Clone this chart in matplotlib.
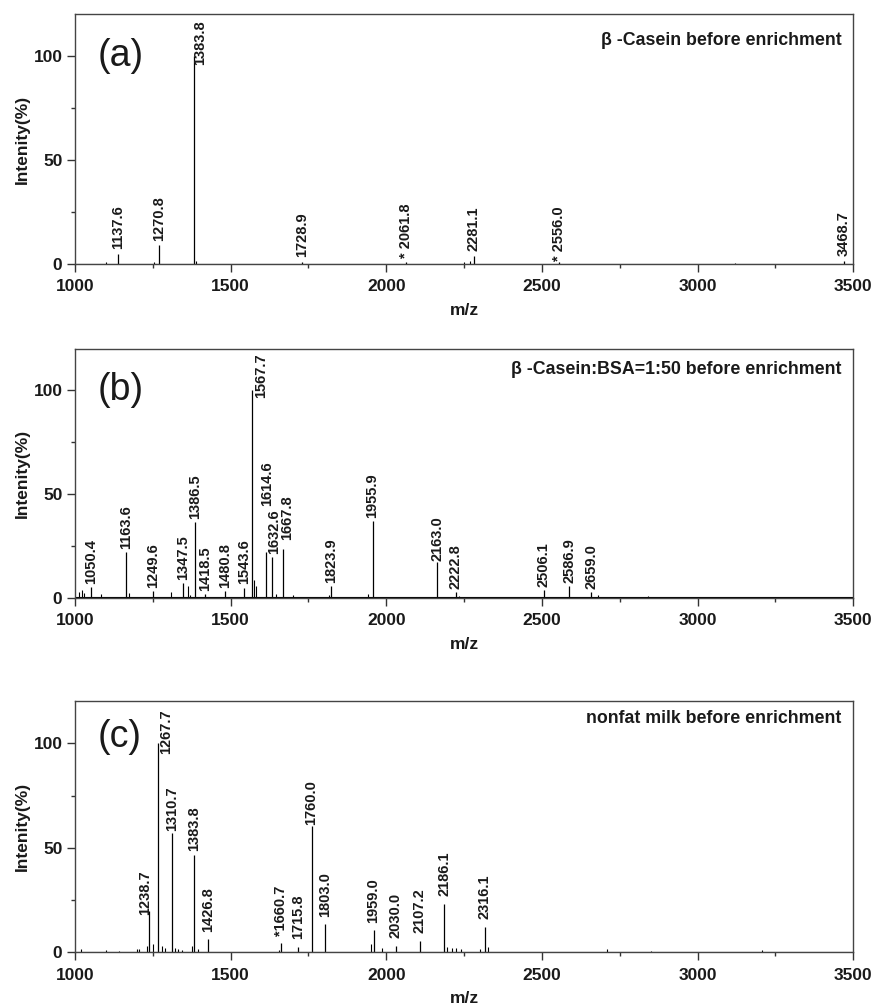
import matplotlib
matplotlib.use("Agg")
import matplotlib.pyplot as plt
from matplotlib import font_manager
from matplotlib.ticker import MultipleLocator

# ---------------------------------------------------------------
# fonts
# ---------------------------------------------------------------
def pick_font(*names):
    for name in names:
        try:
            font_manager.findfont(font_manager.FontProperties(family=name),
                                  fallback_to_default=False)
            return name
        except ValueError:
            pass
    return "DejaVu Sans"

NARROW = pick_font("Liberation Sans Narrow", "Arial Narrow", "Liberation Sans")
SANS = pick_font("Liberation Sans", "Arial", "DejaVu Sans")

# ---------------------------------------------------------------
# (a) beta-casein before enrichment
# ---------------------------------------------------------------
mz_a = [1137.6, 1270.8, 1383.8, 1728.9, 2061.8, 2281.1, 2556.0, 3468.7]
int_a = [5.0, 9.0, 100.0, 1.2, 0.8, 4.0, 1.0, 1.5]
lab_a = ["1137.6", "1270.8", "1383.8", "1728.9", "* 2061.8", "2281.1",
         "* 2556.0", "3468.7"]
minor_mz_a = [1100, 1255, 1390, 2250, 2270, 3120]
minor_int_a = [0.8, 0.8, 1.5, 1.0, 1.5, 0.6]

# ---------------------------------------------------------------
# (b) beta-casein : BSA = 1:50 before enrichment
# ---------------------------------------------------------------
mz_b = [1050.4, 1163.6, 1249.6, 1347.5, 1386.5, 1418.5, 1480.8, 1543.6,
        1567.7, 1614.6, 1632.6, 1667.8, 1823.9, 1955.9, 2163.0, 2222.8,
        2506.1, 2586.9, 2659.0]
int_b = [5.3, 22.3, 3.2, 7.0, 36.5, 2.0, 3.4, 5.0,
         100.0, 22.0, 19.8, 23.4, 5.6, 37.0, 17.4, 2.9,
         4.0, 5.6, 2.9]
lab_b = ["%.1f" % v for v in mz_b]
minor_mz_b = [1012, 1022, 1030, 1085, 1175, 1310, 1362, 1370, 1575, 1580,
              1645, 1700, 1815, 1940, 2235, 2680, 2840, 3340]
minor_int_b = [3.0, 4.0, 2.5, 2.0, 2.5, 3.0, 5.6, 1.5, 8.5, 6.0,
               2.0, 1.5, 1.5, 2.0, 1.0, 1.5, 1.0, 0.6]

# ---------------------------------------------------------------
# (c) nonfat milk before enrichment
# ---------------------------------------------------------------
mz_c = [1238.7, 1267.7, 1310.7, 1383.8, 1426.8, 1660.7, 1715.8, 1760.0,
        1803.0, 1959.0, 2030.0, 2107.2, 2186.1, 2316.1]
int_c = [19.5, 100.0, 57.0, 46.7, 6.2, 4.3, 2.7, 60.3,
         13.4, 10.7, 3.2, 5.6, 23.2, 12.3]
lab_c = ["1238.7", "1267.7", "1310.7", "1383.8", "1426.8", "*1660.7",
         "1715.8", "1760.0", "1803.0", "1959.0", "2030.0", "2107.2",
         "2186.1", "2316.1"]
minor_mz_c = [1020, 1100, 1140, 1200, 1205, 1230, 1252, 1280, 1290, 1320,
              1330, 1345, 1375, 1395, 1655, 1950, 1985, 2195, 2210, 2225,
              2240, 2300, 2325, 2710, 2850, 3208]
minor_int_c = [1.5, 1.0, 0.8, 1.5, 1.5, 3.0, 4.0, 3.0, 2.0, 2.0,
               1.5, 1.0, 3.0, 1.5, 1.0, 4.0, 2.0, 2.5, 2.0, 2.0,
               1.5, 1.5, 2.5, 1.5, 0.6, 1.0]

# label placement tweaks: m/z -> (x shift, y of label foot)
adjust_a = {1383.8: (19, 95.5), 2556.0: (0, 1.5)}
adjust_b = {1567.7: (30, 96.5), 1614.6: (2, 44.5), 1632.6: (6, 21.0),
            1667.8: (14, 27.9), 2163.0: (0, 17.8)}
adjust_c = {1238.7: (-13, 17.9), 1267.7: (24, 94.7), 1310.7: (0, 58.0),
            1383.8: (0, 48.3), 1760.0: (0, 61.0)}

panels = [
    dict(mz=mz_a, inten=int_a, labels=lab_a, mmz=minor_mz_a, mint=minor_int_a,
         adj=adjust_a, off=2.2, base=0.0, tag="(a)", tag_y=100,
         title="β -Casein before enrichment", title_y=107.5,
         rect=[0.0855, 0.7373, 0.8875, 0.2488]),
    dict(mz=mz_b, inten=int_b, labels=lab_b, mmz=minor_mz_b, mint=minor_int_b,
         adj=adjust_b, off=1.5, base=0.5, tag="(b)", tag_y=100,
         title="β -Casein:BSA=1:50 before enrichment", title_y=110,
         rect=[0.0855, 0.4050, 0.8875, 0.2478]),
    dict(mz=mz_c, inten=int_c, labels=lab_c, mmz=minor_mz_c, mint=minor_int_c,
         adj=adjust_c, off=3.5, base=0.3, tag="(c)", tag_y=103,
         title="nonfat milk before enrichment", title_y=112,
         rect=[0.0855, 0.0525, 0.8875, 0.2495]),
]

fig = plt.figure(figsize=(8.77, 10.05), dpi=100)

for p in panels:
    ax = fig.add_axes(p["rect"])

    # spectrum sticks
    ax.hlines(p["base"], 1000, 3500, color="black", lw=0.8)
    ax.vlines(p["mmz"], 0, p["mint"], color="black", lw=0.8)
    ax.vlines(p["mz"], 0, p["inten"], color="black", lw=0.9)

    # peak labels
    for x, y, s in zip(p["mz"], p["inten"], p["labels"]):
        dx, ly = p["adj"].get(x, (0, y + p["off"]))
        ax.text(x + dx, ly, s, rotation=90, ha="center", va="bottom",
                fontsize=10.5, fontweight="bold", family=SANS,
                color="#1a1a1a")

    ax.text(1072, p["tag_y"], p["tag"], fontsize=27, family=SANS,
            ha="left", va="center", color="#1a1a1a")
    ax.text(3462, p["title_y"], p["title"], fontsize=12.8, family=SANS,
            fontweight="bold", ha="right", va="center", color="#1a1a1a")

    ax.set_xlim(1000, 3500)
    ax.set_ylim(0, 120)
    ax.set_yticks([0, 50, 100])
    ax.xaxis.set_major_locator(MultipleLocator(500))
    ax.xaxis.set_minor_locator(MultipleLocator(250))
    ax.yaxis.set_minor_locator(MultipleLocator(25))
    ax.tick_params(which="major", direction="out", length=6, width=1.0,
                   color="#333333", pad=3)
    ax.tick_params(axis="x", which="major", pad=5)
    ax.tick_params(which="minor", direction="out", length=3, width=1.0,
                   color="#333333")
    for lbl in ax.get_xticklabels() + ax.get_yticklabels():
        lbl.set_family(NARROW)
        lbl.set_fontweight("bold")
        lbl.set_fontsize(12.5)
        lbl.set_color("#1a1a1a")

    for sp in ax.spines.values():
        sp.set_color("#444444")
        sp.set_linewidth(1.0)

    ax.set_xlabel("m/z", fontsize=12.5, fontweight="bold", family=NARROW,
                  color="#1a1a1a")
    ax.set_ylabel("Intenity(%)", fontsize=12.5, fontweight="bold", family=SANS,
                  color="#1a1a1a")
    ax.xaxis.set_label_coords(0.5, -0.155)
    ax.yaxis.set_label_coords(-0.058, 0.5)

fig.savefig("out.png", dpi=100, facecolor="white")
